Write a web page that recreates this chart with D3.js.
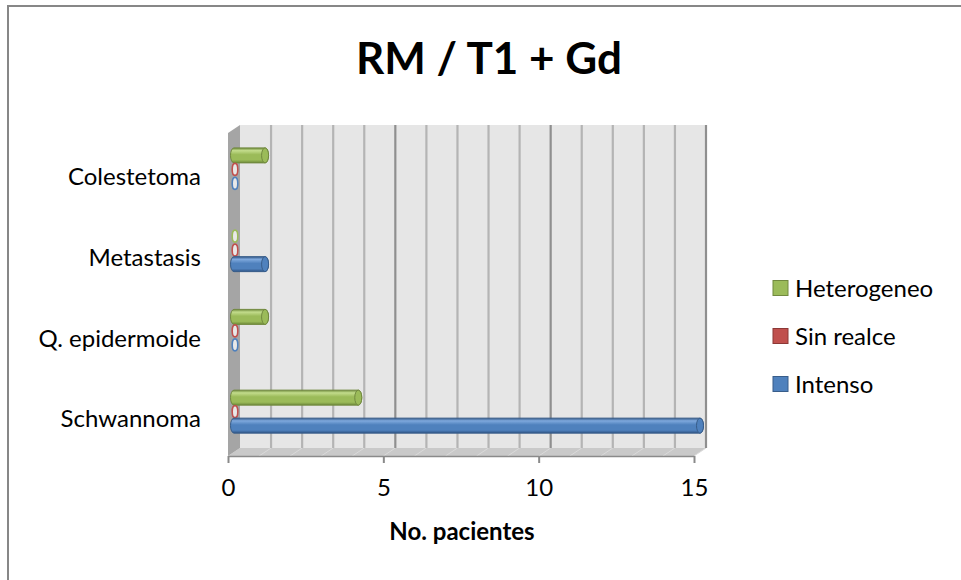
<!DOCTYPE html>
<html>
<head>
<meta charset="utf-8">
<script src="https://cdn.jsdelivr.net/npm/d3@7"></script>
<style>
  body { margin: 0; background: #fff; }
  text { font-family: Lato, "Open Sans", sans-serif; fill: #000; }
</style>
</head>
<body>
<script>
// Data
var categories = ["Colestetoma", "Metastasis", "Q. epidermoide", "Schwannoma"];
var seriesNames = ["Heterogeneo", "Sin realce", "Intenso"];
var heterogeneo = [1, 0, 1, 4];
var sinRealce = [0, 0, 0, 0];
var intenso = [0, 1, 0, 15];
var xTicks = [0, 5, 10, 15];

var seriesValues = [heterogeneo, sinRealce, intenso];
var colors = {
  "Heterogeneo": {base: "#9bbb59", light: "#c3dc8c", dark: "#6e8a3a", edge: "#71893f"},
  "Sin realce":  {base: "#c0504d", light: "#e08a88", dark: "#8c3432", edge: "#8c3836"},
  "Intenso":     {base: "#4f81bd", light: "#7fa9dd", dark: "#2f5586", edge: "#385d8a"}
};

var W = 961, H = 580;

// 3D plot geometry: back wall and depth offset
var wall = {left: 240, right: 706, top: 125, bottom: 448};
var depth = {dx: -12, dy: 8};

var svg = d3.select("body").append("svg")
    .attr("width", W)
    .attr("height", H);

// Chart frame (only left & top edges visible)
svg.append("rect")
    .attr("x", 8).attr("y", 6)
    .attr("width", W).attr("height", H)
    .attr("fill", "#fff")
    .attr("stroke", "#878787")
    .attr("stroke-width", 2);

// Scales
var x = d3.scaleLinear().domain([0, 15]).range([wall.left, wall.right]);
var y = d3.scaleBand().domain(categories).range([wall.top, wall.bottom]);
var yOff = d3.scalePoint().domain(seriesNames).range([-14, 14]);

var defs = svg.append("defs");
seriesNames.forEach(function(s, i) {
  var c = colors[s];
  var g = defs.append("linearGradient")
      .attr("id", "cyl" + i)
      .attr("x1", 0).attr("y1", 0).attr("x2", 0).attr("y2", 1);
  g.append("stop").attr("offset", "0%").attr("stop-color", c.dark);
  g.append("stop").attr("offset", "18%").attr("stop-color", c.light);
  g.append("stop").attr("offset", "45%").attr("stop-color", c.base);
  g.append("stop").attr("offset", "80%").attr("stop-color", c.base);
  g.append("stop").attr("offset", "100%").attr("stop-color", c.dark);
});

// Back wall
svg.append("rect")
    .attr("x", wall.left).attr("y", wall.top)
    .attr("width", wall.right - wall.left)
    .attr("height", wall.bottom - wall.top)
    .attr("fill", "#e6e6e6");

// Floor
svg.append("polygon")
    .attr("points", [
      [wall.left, wall.bottom], [wall.right, wall.bottom],
      [wall.right + depth.dx, wall.bottom + depth.dy], [wall.left + depth.dx, wall.bottom + depth.dy]
    ].join(" "))
    .attr("fill", "#c9c9c9");

// Floor grid lines
svg.append("g").selectAll("line")
  .data(d3.range(1, 16))
  .join("line")
    .attr("x1", function(d) { return x(d); })
    .attr("x2", function(d) { return x(d) + depth.dx; })
    .attr("y1", wall.bottom)
    .attr("y2", wall.bottom + depth.dy)
    .attr("stroke", "#dadada")
    .attr("stroke-width", 1);

// Wall grid lines
svg.append("g").selectAll("line")
  .data(d3.range(1, 16))
  .join("line")
    .attr("x1", function(d) { return x(d); })
    .attr("x2", function(d) { return x(d); })
    .attr("y1", wall.top)
    .attr("y2", wall.bottom)
    .attr("stroke", function(d) { return d % 5 === 0 ? "#8f8f8f" : "#b4b4b4"; })
    .attr("stroke-width", 2.2);

// Side wall
svg.append("polygon")
    .attr("points", [
      [wall.left, wall.top], [wall.left + depth.dx, wall.top + depth.dy],
      [wall.left + depth.dx, wall.bottom + depth.dy], [wall.left, wall.bottom]
    ].join(" "))
    .attr("fill", "#a5a5a5");

// Bars (cylinders) at mid depth
var r = 7.5, capRx = 3.5;
var mx = depth.dx / 2, my = depth.dy / 2;
var bars = [];
seriesNames.forEach(function(s, i) {
  categories.forEach(function(cat, j) {
    bars.push({series: s, si: i, cat: cat, value: seriesValues[i][j]});
  });
});

var barG = svg.append("g");
bars.forEach(function(d) {
  var cy = y(d.cat) + y.bandwidth() / 2 + my + yOff(d.series);
  var x0 = x(0) + mx, x1 = x(d.value) + mx;
  var c = colors[d.series];
  if (d.value === 0) {
    barG.append("ellipse")
        .attr("cx", x0 + 1).attr("cy", cy)
        .attr("rx", 2.8).attr("ry", r - 1.5)
        .attr("fill", "#e8e8e8")
        .attr("stroke", c.base)
        .attr("stroke-width", 1.6);
    return;
  }
  barG.append("path")
      .attr("d", "M" + x0 + "," + (cy - r) + "L" + x1 + "," + (cy - r) +
                 "A" + capRx + "," + r + " 0 0 1 " + x1 + "," + (cy + r) +
                 "L" + x0 + "," + (cy + r) +
                 "A" + capRx + "," + r + " 0 0 1 " + x0 + "," + (cy - r) + "Z")
      .attr("fill", "url(#cyl" + d.si + ")")
      .attr("stroke", c.edge)
      .attr("stroke-width", 1);
  barG.append("ellipse")
      .attr("cx", x1).attr("cy", cy)
      .attr("rx", capRx).attr("ry", r)
      .attr("fill", c.base)
      .attr("stroke", c.edge)
      .attr("stroke-width", 1);
});

// Front X axis
var xFront = d3.scaleLinear().domain([0, 15])
    .range([wall.left + depth.dx, wall.right + depth.dx]);
var xAxis = svg.append("g")
    .attr("transform", "translate(0," + (wall.bottom + depth.dy) + ")")
    .call(d3.axisBottom(xFront).tickValues(xTicks).tickSize(7).tickPadding(16).tickSizeOuter(0));
xAxis.select(".domain").attr("stroke", "#8a8a8a").attr("stroke-width", 1.5);
xAxis.selectAll(".tick line").attr("stroke", "#8a8a8a").attr("stroke-width", 2);
xAxis.selectAll("text")
    .style("font-family", "Lato, sans-serif")
    .style("font-size", "24px")
    .attr("fill", "#000");

// Category labels
var yFront = d3.scaleBand().domain(categories)
    .range([wall.top + depth.dy, wall.bottom + depth.dy]);
var yAxis = svg.append("g")
    .attr("transform", "translate(201,4)")
    .call(d3.axisLeft(yFront).tickSize(0).tickPadding(0));
yAxis.select(".domain").remove();
yAxis.selectAll("text")
    .style("font-family", "Lato, sans-serif")
    .style("font-size", "24px")
    .attr("fill", "#000");

// Title
svg.append("text")
    .attr("x", 489)
    .attr("y", 74)
    .attr("text-anchor", "middle")
    .style("font-size", "44px")
    .style("font-weight", "bold")
    .text("RM / T1 + Gd");

// Axis title
svg.append("text")
    .attr("x", 462)
    .attr("y", 540)
    .attr("text-anchor", "middle")
    .style("font-size", "24px")
    .style("font-weight", "bold")
    .text("No. pacientes");

// Legend
var legend = svg.append("g")
    .attr("transform", "translate(773,288)");
var li = legend.selectAll("g")
  .data(seriesNames)
  .join("g")
    .attr("transform", function(d, i) { return "translate(0," + (i * 48) + ")"; });
li.append("rect")
    .attr("x", 0).attr("y", -7.5)
    .attr("width", 15).attr("height", 15)
    .attr("fill", function(d) { return colors[d].base; })
    .attr("stroke", function(d) { return colors[d].edge; })
    .attr("stroke-width", 1);
li.append("text")
    .attr("x", 22)
    .attr("y", 0)
    .attr("dy", "0.36em")
    .style("font-size", "24px")
    .text(function(d) { return d; });
</script>
</body>
</html>
